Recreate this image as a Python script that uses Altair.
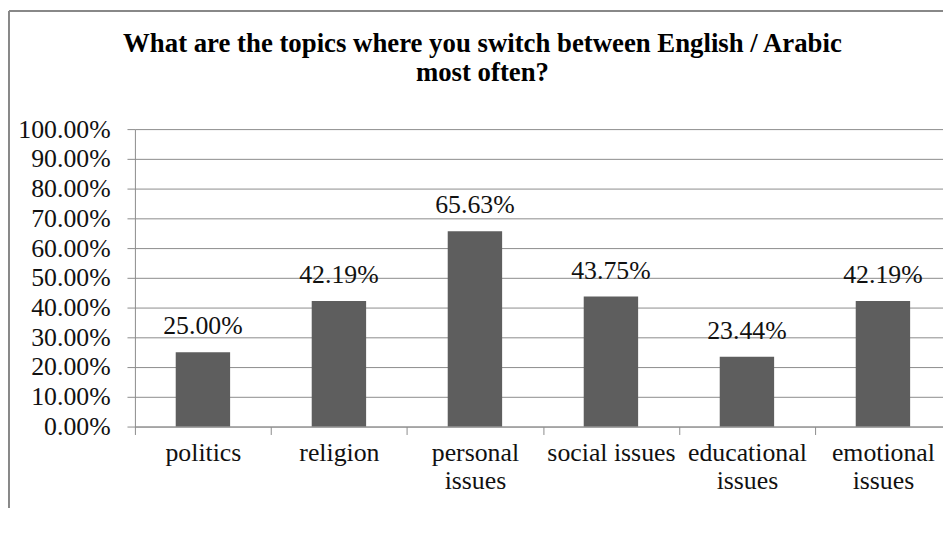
import json
import altair as alt
import pandas as pd

# ---- data ----
categories = ["politics", "religion", "personal issues", "social issues",
              "educational issues", "emotional issues"]
shares = [0.2500, 0.4219, 0.6563, 0.4375, 0.2344, 0.4219]
tick_label_lines = [["politics"], ["religion"], ["personal", "issues"],
                    ["social issues"], ["educational", "issues"], ["emotional", "issues"]]
y_tick_values = [0.0, 0.1, 0.2, 0.3, 0.4, 0.5, 0.6, 0.7, 0.8, 0.9, 1.0]
title_lines = ["What are the topics where you switch between English / Arabic",
               "most often?"]

df = pd.DataFrame({"topic": categories, "share": shares})
frame_df = pd.DataFrame({"k": [0]})

FONT = "Times New Roman, Liberation Serif, serif"
GRID = "#8c8c8c"
BAR = "#5e5e5e"
TXT = "#111111"

label_expr = " : ".join(
    f"datum.value === {json.dumps(c)} ? {json.dumps(l)}"
    for c, l in zip(categories, tick_label_lines)
) + " : datum.label"

x_enc = alt.X(
    "topic:N",
    sort=categories,
    scale=alt.Scale(paddingInner=0, paddingOuter=0),
    axis=alt.Axis(
        title=None, labelAngle=0, labelExpr=label_expr, tickBand="extent",
        tickSize=8, tickColor=GRID, domainColor=GRID, grid=False,
        labelFont=FONT, labelFontSize=26, labelColor=TXT, labelPadding=5,
        labelLineHeight=28, labelOverlap=False,
    ),
)
y_enc = alt.Y(
    "share:Q",
    scale=alt.Scale(domain=[0, 1], nice=False),
    axis=alt.Axis(
        title=None, values=y_tick_values, format=".2%", grid=True,
        gridColor=GRID, gridWidth=1, tickSize=8, tickColor=GRID,
        domainColor=GRID, labelFont=FONT, labelFontSize=26, labelColor=TXT,
        labelPadding=17, labelOverlap=False,
    ),
)

bars = alt.Chart(df).mark_bar(width=alt.RelativeBandSize(0.4), color=BAR).encode(
    x=x_enc, y=y_enc
)
labels = alt.Chart(df).mark_text(
    dy=-18, baseline="alphabetic", font=FONT, fontSize=26, color=TXT
).encode(x=x_enc, y=y_enc, text=alt.Text("share:Q", format=".2%"))

frame_left = alt.Chart(frame_df).mark_rule(color="#888888", strokeWidth=2).encode(
    x=alt.value(-127), y=alt.value(-119), y2=alt.value(420)
)
frame_top = alt.Chart(frame_df).mark_rule(color="#888888", strokeWidth=2).encode(
    x=alt.value(-127), x2=alt.value(900), y=alt.value(-119)
)

chart = alt.layer(frame_left, frame_top, bars, labels).properties(
    width=823,
    height=300,
    padding={"left": 128, "top": 120, "right": -8, "bottom": 80},
    autosize=alt.AutoSizeParams(type="none"),
    title=alt.TitleParams(
        text=title_lines, font=FONT, fontSize=27, fontWeight="bold",
        color="#000000", anchor="middle", frame="group", dx=-61, dy=77,
        offset=0, lineHeight=29,
    ),
).configure_view(stroke=None)

chart.save("out.html", embed_options={"renderer": "svg", "actions": False})
